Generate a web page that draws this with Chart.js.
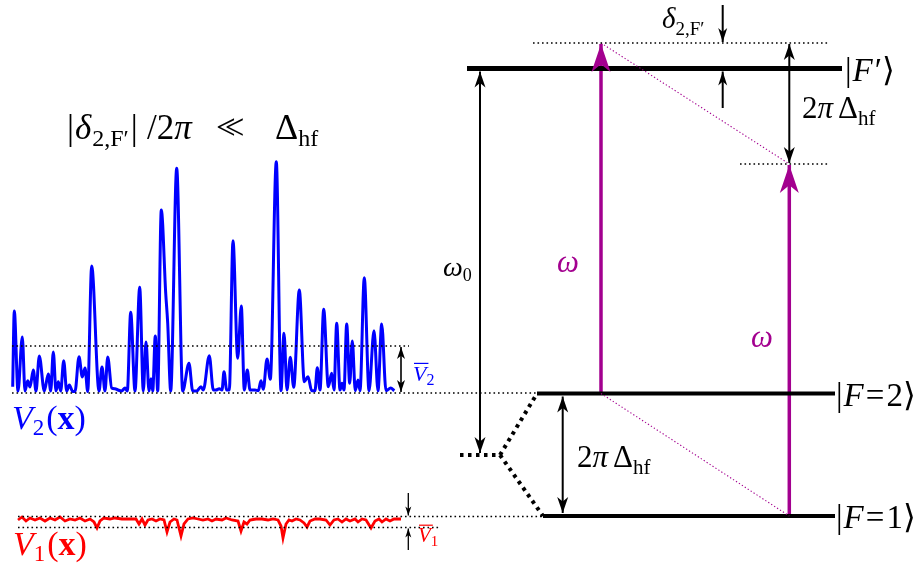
<!DOCTYPE html>
<html>
<head>
<meta charset="utf-8">
<script src="https://cdn.jsdelivr.net/npm/chart.js@4.4.1/dist/chart.umd.min.js"></script>
<style>
  html, body { margin: 0; padding: 0; background: #fff; }
  #wrap { width: 921px; height: 570px; }
</style>
</head>
<body>
<div id="wrap"><canvas id="c" width="921" height="570"></canvas></div>
<script>
// diagram units: x across, y down (same span as the figure)

// V2(x): blue speckle potential
const v2X = [12.7,14.3,18,22.3,25,27.7,30,33.3,36,39.3,44.3,48.3,50.7,53.3,56,58.3,60.7,63.7,66.7,69.3,72.7,75,79,82.3,85,87.7,91.7,99,102,105,107.7,111.7,115,118,121.7,125,127.3,130.7,135,139.7,143.3,146,149,151,152.7,155.3,157.7,161.3,165.7,167.7,170.7,176.7,182.7,189,192.7,196.7,201,203.3,209.3,213.3,216,219.3,222,224,226.7,229.3,233,237.7,241.3,244.3,247.3,250,255,258.3,261,263.3,267,270.3,276.3,281,284,287,290.3,293.7,299.3,304.3,308,311.7,315,317.3,320,323.7,328.3,331.7,334,336.7,340,342,344,346.7,349.7,352.3,355.3,358,360,364.3,369,374,378,381.7,386,390.7,394.3];
const v2Y = [386.7,311,391,337,391,380.7,387,370,391,356,391,374,391,352,391,381.7,391,360.7,391,385,391.5,391.5,356.7,377,368,391.5,266,391,367,391,357,388,388.7,390,391,388,391,312.3,391,287.3,391,342,391,378.7,391,336,391,210,293,323,391,168.3,391,363.3,391,391,386.7,390,355.7,390,390,388.7,390,371.7,390,390,240.7,358.3,306,390,370,390,390,390.7,380.7,389.3,359,379.3,161.7,390.7,333.3,390,357.3,387.3,290,381.7,376.7,390.7,390.7,367.7,390,309.3,386.7,373.3,390,323.3,390,383.3,390,324,383.3,341,390.7,380,390.7,277.7,390.7,330.7,390.7,324,390.7,388,390.7];

// V1(x): red potential
const v1X = [18,22,26,30,35,40,45,50,55,60,65,70,75,80,85,90,94,97,100,104,110,115,122,130,136,139,142,145,148,152,156,160,164,167,170,174,177,181,184,188,193,198,203,208,212,216,222,226,232,238,241,244,247,250,256,262,268,273,278,281,283,286,289,292,296,300,304,307,310,315,320,326,330,334,338,342,346,350,355,358,362,366,371,375,379,382,386,390,394,401];
const v1Y = [520,517,521,518,520,518,521,518,520,517,521,519,520,518,521,519,522,528,521,518,519,518,519,519,519,524,519,525,520,519,521,519,520,532,522,519,520,536,524,519,518,519,520,519,521,519,520,518,520,521,531,522,524,520,519,519,520,519,520,526,538,524,520,521,519,520,523,527,521,519,519,520,525,520,519,522,519,521,519,522,519,520,528,521,519,522,519,521,519,519];

// mean levels of the two potentials
const v2Base = 393, v2Mean = 346;
const v1Top = 516.5, v1Low = 527.5;

// hyperfine levels
const levelNames = ["|F′⟩", "|F=2⟩", "|F=1⟩"];
const levelY = [68.5, 393.5, 516];
const levelX0 = [467, 537, 543];
const levelX1 = [842, 835, 835];
const virtY = [43, 164];        // virtual levels
const unsplitY = 455;           // level without hyperfine splitting
const laserX = [601, 789.3];    // the two ω beams

const BLACK = '#000', BLUE = '#0000ff', RED = '#ff0000', MAG = '#a3008f';

function pts(xs, ys) { return xs.map((x, i) => ({ x, y: ys[i] })); }
function seg(a, b, style) {
  return Object.assign({ data: [{ x: a[0], y: a[1] }, { x: b[0], y: b[1] }],
    showLine: true, pointRadius: 0, borderColor: BLACK, borderWidth: 2, fill: false }, style);
}
const dotted = { borderWidth: 1.6, borderDash: [1.6, 2.9] };
const fatDots = { borderWidth: 4, borderDash: [3.5, 4.5] };
const magDots = { borderColor: MAG, borderWidth: 1.1, borderDash: [1.3, 2.2] };

const datasets = [
  // reference dotted lines
  seg([12, v2Mean], [409, v2Mean], dotted),
  seg([12, v2Base], [levelX0[1], v2Base], dotted),
  seg([18, v1Top], [levelX0[2], v1Top], dotted),
  seg([18, v1Low], [440, v1Low], dotted),
  seg([533, virtY[0]], [828, virtY[0]], dotted),
  seg([740, virtY[1]], [830, virtY[1]], dotted),
  // unsplit level and splitting
  seg([460, unsplitY], [500, unsplitY], fatDots),
  seg([500, unsplitY], [levelX0[1], levelY[1]], fatDots),
  seg([500, unsplitY], [levelX0[2], levelY[2]], fatDots),
  // magenta dotted guides
  seg([laserX[0], virtY[0]], [laserX[1], virtY[1]], magDots),
  seg([laserX[0], levelY[1]], [laserX[1], levelY[2]], magDots),
  // levels
  seg([levelX0[0], levelY[0]], [levelX1[0], levelY[0]], { borderWidth: 5 }),
  seg([levelX0[1], levelY[1]], [levelX1[1], levelY[1]], { borderWidth: 4 }),
  seg([levelX0[2], levelY[2]], [levelX1[2], levelY[2]], { borderWidth: 4 }),
  // potentials
  { data: pts(v2X, v2Y), showLine: true, pointRadius: 0, borderColor: BLUE, borderWidth: 3,
    cubicInterpolationMode: 'monotone', fill: false },
  { data: pts(v1X, v1Y), showLine: true, pointRadius: 0, borderColor: RED, borderWidth: 2.8,
    fill: false },
  // black arrows
  seg([722.7, 5], [722.7, virtY[0] - 1], { heads: ['end'], hl: 14, hw: 9 }),
  seg([722.7, 108], [722.7, levelY[0] + 3], { heads: ['end'], hl: 14, hw: 9 }),
  seg([480, levelY[0] + 3], [480, unsplitY - 2], { heads: ['start', 'end'], hl: 16, hw: 11 }),
  seg([laserX[1], virtY[0] + 1], [laserX[1], virtY[1] - 1], { heads: ['start', 'end'], hl: 16, hw: 11 }),
  seg([562.7, levelY[1] + 3], [562.7, levelY[2] - 3], { heads: ['start', 'end'], hl: 16, hw: 11 }),
  seg([401, v2Mean + 1], [401, v2Base - 1], { heads: ['start', 'end'], hl: 12, hw: 8, borderWidth: 1.6 }),
  seg([408.3, 493], [408.3, v1Top - 1], { heads: ['end'], hl: 9, hw: 6, borderWidth: 1.3 }),
  seg([408.3, 550], [408.3, v1Low + 1], { heads: ['end'], hl: 9, hw: 6, borderWidth: 1.3 }),
  // laser arrows
  seg([laserX[0], levelY[1]], [laserX[0], virtY[0] + 1], { borderColor: MAG, borderWidth: 3.5, heads: ['end'], hl: 28, hw: 19 }),
  seg([laserX[1], levelY[2]], [laserX[1], virtY[1] + 1], { borderColor: MAG, borderWidth: 3.5, heads: ['end'], hl: 28, hw: 19 })
];

function drawHead(ctx, tip, from, L, W, color) {
  const dx = tip[0] - from[0], dy = tip[1] - from[1];
  const d = Math.hypot(dx, dy) || 1;
  const ux = dx / d, uy = dy / d, nx = -uy, ny = ux;
  const bx = tip[0] - ux * L, by = tip[1] - uy * L;
  ctx.save();
  ctx.fillStyle = color;
  ctx.beginPath();
  ctx.moveTo(tip[0], tip[1]);
  ctx.lineTo(bx + nx * W / 2, by + ny * W / 2);
  ctx.lineTo(tip[0] - ux * L * 0.72, tip[1] - uy * L * 0.72);
  ctx.lineTo(bx - nx * W / 2, by - ny * W / 2);
  ctx.closePath();
  ctx.fill();
  ctx.restore();
}

const SERIF = '"Liberation Serif", "DejaVu Serif", serif';
// rich text: parts = [text, size, opts{it, bf, dy, over, kern, at}]
function rich(ctx, x, y, parts, color) {
  ctx.save();
  ctx.fillStyle = color;
  ctx.strokeStyle = color;
  ctx.textBaseline = 'alphabetic';
  let cx = x;
  parts.forEach(([t, size, o = {}]) => {
    if (o.at !== undefined) cx = o.at;
    ctx.font = (o.it ? 'italic ' : '') + (o.bf ? 'bold ' : '') + size + 'px ' + SERIF;
    const w = ctx.measureText(t).width;
    ctx.fillText(t, cx, y + (o.dy || 0));
    if (o.over) {
      ctx.lineWidth = 1.2;
      ctx.beginPath();
      ctx.moveTo(cx + 1, y - size * 0.8);
      ctx.lineTo(cx + w + 2, y - size * 0.8);
      ctx.stroke();
    }
    cx += w + (o.kern || 0);
  });
  ctx.restore();
}

const arrowPlugin = {
  id: 'arrows',
  afterDatasetsDraw(chart) {
    const ctx = chart.ctx, xs = chart.scales.x, ys = chart.scales.y;
    chart.data.datasets.forEach(ds => {
      if (!ds.heads) return;
      const p = ds.data.map(d => [xs.getPixelForValue(d.x), ys.getPixelForValue(d.y)]);
      ds.heads.forEach(h => {
        const tip = h === 'end' ? p[p.length - 1] : p[0];
        const from = h === 'end' ? p[p.length - 2] : p[1];
        drawHead(ctx, tip, from, ds.hl, ds.hw, ds.borderColor);
      });
    });
  }
};

const labelPlugin = {
  id: 'labels',
  afterDraw(chart) {
    const ctx = chart.ctx, xs = chart.scales.x, ys = chart.scales.y;
    const X = v => xs.getPixelForValue(v), Y = v => ys.getPixelForValue(v);
    // title relation, in four groups placed like the typeset original
    rich(ctx, 0, Y(139), [['|', 35, { at: X(67), kern: 1 }], ['δ', 35, { it: 1, kern: 1 }], ['2,F′', 24, { dy: 7, kern: 2 }], ['|', 35],
      ['/', 35, { at: X(147) }], ['2', 35], ['π', 35, { it: 1 }],
      ['<', 35, { at: X(216), kern: -11 }], ['<', 35],
      ['Δ', 36, { at: X(275) }], ['hf', 24, { dy: 7, kern: 0 }]], BLACK);
    // potentials
    rich(ctx, X(12), Y(429), [['V', 34, { it: 1 }], ['2', 23, { dy: 6, kern: 2 }], ['(', 34], ['x', 34, { bf: 1 }], [')', 34]], BLUE);
    rich(ctx, X(13), Y(555), [['V', 34, { it: 1 }], ['1', 23, { dy: 6, kern: 2 }], ['(', 34], ['x', 34, { bf: 1 }], [')', 34]], RED);
    rich(ctx, X(413), Y(381), [['V', 22, { it: 1, over: 1 }], ['2', 16, { dy: 4 }]], BLUE);
    rich(ctx, X(418), Y(542), [['V', 21, { it: 1, over: 1 }], ['1', 15, { dy: 4 }]], RED);
    // levels
    const ket = n => [['|', 33, { kern: 1 }], ['F', 33, { it: 1, kern: 2 }], ['=', 33, { kern: 2 }], [n, 33], ['⟩', 33]];
    rich(ctx, X(845), Y(levelY[0] + 12), [['|', 33, { kern: 1 }], ['F', 33, { it: 1, kern: 2 }], ['′', 33], ['⟩', 33]], BLACK);
    rich(ctx, X(836), Y(levelY[1] + 12), ket('2'), BLACK);
    rich(ctx, X(836), Y(levelY[2] + 12), ket('1'), BLACK);
    // detunings and splittings
    rich(ctx, X(662), Y(28), [['δ', 29, { it: 1 }], ['2,F′', 19, { dy: 7 }]], BLACK);
    const hf = [['2', 31], ['π', 31, { it: 1, kern: 5 }], ['Δ', 31], ['hf', 21, { dy: 7 }]];
    rich(ctx, X(802), Y(118), hf, BLACK);
    rich(ctx, X(577), Y(467), hf, BLACK);
    rich(ctx, X(443), Y(276), [['ω', 28, { it: 1 }], ['0', 18, { dy: 5 }]], BLACK);
    rich(ctx, X(557), Y(272), [['ω', 31, { it: 1 }]], MAG);
    rich(ctx, X(751), Y(347), [['ω', 31, { it: 1 }]], MAG);
  }
};

new Chart(document.getElementById('c'), {
  type: 'scatter',
  data: { datasets },
  options: {
    responsive: false,
    devicePixelRatio: 1,
    animation: false,
    layout: { padding: 0 },
    plugins: { legend: { display: false }, tooltip: { enabled: false }, title: { display: false } },
    scales: {
      x: { type: 'linear', min: 0, max: 921, display: false },
      y: { type: 'linear', min: 0, max: 570, reverse: true, display: false }
    },
    elements: { line: { borderCapStyle: 'butt' } }
  },
  plugins: [arrowPlugin, labelPlugin]
});
</script>
</body>
</html>
